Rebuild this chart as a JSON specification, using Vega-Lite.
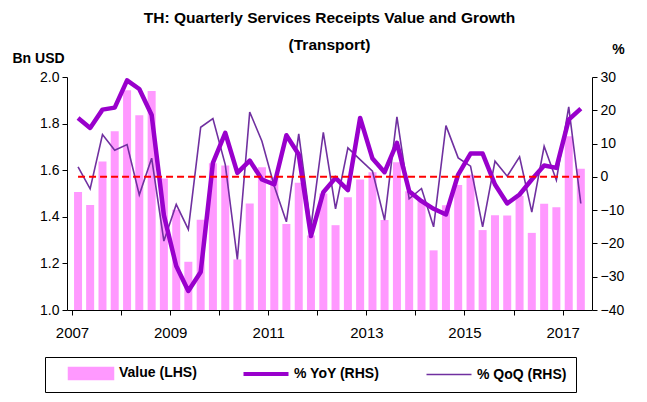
{
  "$schema": "https://vega.github.io/schema/vega-lite/v6.json",
  "width": 525,
  "height": 233,
  "autosize": {"type": "none"},
  "padding": {"left": 67, "top": 77, "right": 55, "bottom": 92},
  "background": "white",
  "config": {
    "font": "Liberation Sans",
    "view": {"stroke": null},
    "axis": {
      "labelFont": "Liberation Sans",
      "labelFontSize": 14,
      "labelColor": "black",
      "domainColor": "black",
      "domainWidth": 1,
      "tickColor": "black",
      "tickSize": 5,
      "grid": false,
      "titleFont": "Liberation Sans",
      "titleFontSize": 14,
      "titleFontWeight": "bold",
      "titleColor": "black"
    }
  },
  "title": {
    "text": ["TH: Quarterly Services Receipts Value and Growth", "(Transport)"],
    "font": "Liberation Sans",
    "fontSize": 15.5,
    "fontWeight": "bold",
    "color": "black",
    "anchor": "middle",
    "frame": "group",
    "lineHeight": 27,
    "offset": -11
  },
  "data": {
    "format": {"parse": {"date": "date:'%Y-%m-%d'"}},
    "values": [
      {"date": "2007-02-15", "value": 1.506, "yoy": 17.7, "qoq": 3.0},
      {"date": "2007-05-16", "value": 1.451, "yoy": 14.7, "qoq": -3.6},
      {"date": "2007-08-16", "value": 1.637, "yoy": 20.2, "qoq": 12.7},
      {"date": "2007-11-15", "value": 1.767, "yoy": 20.8, "qoq": 8.0},
      {"date": "2008-02-15", "value": 1.943, "yoy": 29.0, "qoq": 9.7},
      {"date": "2008-05-16", "value": 1.836, "yoy": 26.4, "qoq": -5.4},
      {"date": "2008-08-16", "value": 1.940, "yoy": 18.6, "qoq": 5.6},
      {"date": "2008-11-15", "value": 1.564, "yoy": -11.5, "qoq": -19.3},
      {"date": "2009-02-15", "value": 1.430, "yoy": -26.8, "qoq": -8.3},
      {"date": "2009-05-16", "value": 1.207, "yoy": -34.3, "qoq": -15.8},
      {"date": "2009-08-16", "value": 1.387, "yoy": -28.6, "qoq": 14.9},
      {"date": "2009-11-15", "value": 1.630, "yoy": 4.2, "qoq": 17.5},
      {"date": "2010-02-15", "value": 1.620, "yoy": 13.2, "qoq": 3.7},
      {"date": "2010-05-16", "value": 1.217, "yoy": 1.2, "qoq": -24.8},
      {"date": "2010-08-16", "value": 1.457, "yoy": 4.9, "qoq": 19.5},
      {"date": "2010-11-15", "value": 1.613, "yoy": -0.8, "qoq": 10.7},
      {"date": "2011-02-15", "value": 1.570, "yoy": -2.3, "qoq": -2.8},
      {"date": "2011-05-16", "value": 1.369, "yoy": 12.5, "qoq": -13.5},
      {"date": "2011-08-16", "value": 1.546, "yoy": 6.7, "qoq": 12.9},
      {"date": "2011-11-15", "value": 1.320, "yoy": -17.8, "qoq": -15.0},
      {"date": "2012-02-15", "value": 1.500, "yoy": -4.6, "qoq": 13.4},
      {"date": "2012-05-16", "value": 1.364, "yoy": -0.3, "qoq": -9.6},
      {"date": "2012-08-16", "value": 1.484, "yoy": -4.0, "qoq": 8.7},
      {"date": "2012-11-15", "value": 1.560, "yoy": 17.7, "qoq": 5.2},
      {"date": "2013-02-15", "value": 1.591, "yoy": 5.5, "qoq": 1.7},
      {"date": "2013-05-16", "value": 1.386, "yoy": 1.4, "qoq": -13.0},
      {"date": "2013-08-16", "value": 1.634, "yoy": 10.2, "qoq": 18.0},
      {"date": "2013-11-15", "value": 1.510, "yoy": -4.3, "qoq": -6.6},
      {"date": "2014-02-15", "value": 1.474, "yoy": -7.3, "qoq": -3.5},
      {"date": "2014-05-16", "value": 1.256, "yoy": -9.6, "qoq": -15.0},
      {"date": "2014-08-16", "value": 1.450, "yoy": -11.3, "qoq": 15.4},
      {"date": "2014-11-15", "value": 1.536, "yoy": 0.7, "qoq": 5.7},
      {"date": "2015-02-15", "value": 1.580, "yoy": 7.0, "qoq": 3.2},
      {"date": "2015-05-16", "value": 1.343, "yoy": 7.0, "qoq": -15.0},
      {"date": "2015-08-16", "value": 1.407, "yoy": -2.3, "qoq": 4.7},
      {"date": "2015-11-15", "value": 1.406, "yoy": -8.0, "qoq": 0.2},
      {"date": "2016-02-15", "value": 1.490, "yoy": -5.3, "qoq": 6.0},
      {"date": "2016-05-16", "value": 1.331, "yoy": -0.8, "qoq": -10.6},
      {"date": "2016-08-16", "value": 1.456, "yoy": 3.4, "qoq": 9.2},
      {"date": "2016-11-15", "value": 1.441, "yoy": 2.7, "qoq": -1.0},
      {"date": "2017-02-15", "value": 1.746, "yoy": 17.2, "qoq": 21.0},
      {"date": "2017-05-16", "value": 1.606, "yoy": 20.5, "qoq": -8.0}
    ]
  },
  "encoding": {
    "x": {
      "field": "date",
      "type": "temporal",
      "scale": {"domain": [{"year": 2007, "month": 1, "date": 1}, {"year": 2017, "month": 7, "date": 1}]},
      "axis": {
        "title": null,
        "values": [
          {"year": 2007, "month": 1, "date": 1}, {"year": 2008, "month": 1, "date": 1},
          {"year": 2009, "month": 1, "date": 1}, {"year": 2010, "month": 1, "date": 1},
          {"year": 2011, "month": 1, "date": 1}, {"year": 2012, "month": 1, "date": 1},
          {"year": 2013, "month": 1, "date": 1}, {"year": 2014, "month": 1, "date": 1},
          {"year": 2015, "month": 1, "date": 1}, {"year": 2016, "month": 1, "date": 1},
          {"year": 2017, "month": 1, "date": 1}
        ],
        "format": "%Y",
        "labelExpr": "year(datum.value) % 2 == 1 ? '' + year(datum.value) : ''",
        "labelOverlap": false,
        "labelFlush": false,
        "labelFontSize": 15,
        "labelPadding": 10,
        "tickSize": 5
      }
    }
  },
  "layer": [
    {
      "mark": {"type": "bar", "size": 8},
      "encoding": {
        "y": {
          "field": "value",
          "type": "quantitative",
          "scale": {"domain": [1, 2]},
          "axis": {
            "title": "Bn USD",
            "values": [1, 1.2, 1.4, 1.6, 1.8, 2],
            "format": ".1f",
            "labelPadding": 3,
            "titleAngle": 0,
            "titleAlign": "left",
            "titleBaseline": "alphabetic",
            "titleX": -55,
            "titleY": -15
          }
        },
        "y2": {"datum": 1},
        "color": {
          "datum": "Value (LHS)",
          "scale": {
            "domain": ["Value (LHS)", "% YoY (RHS)", "% QoQ (RHS)"],
            "range": ["#FF99FF", "#9900CC", "#7030A0"]
          },
          "legend": {
            "orient": "none",
            "direction": "horizontal",
            "columns": 3,
            "legendX": -22,
            "legendY": 280,
            "title": null,
            "labelFont": "Liberation Sans",
            "labelFontSize": 14,
            "labelFontWeight": "bold",
            "labelColor": "black",
            "symbolSize": 2025,
            "symbolOffset": 30,
            "strokeColor": "black",
            "padding": 9,
            "columnPadding": 32,
            "labelOffset": 21,
            "encode": {
              "symbols": {
                "update": {
                  "size": {"value": 2025},
                  "shape": {"signal": "datum.value == 'Value (LHS)' ? 'M-1,-0.27H1V0.27H-1Z' : 'stroke'"},
                  "fill": {"signal": "datum.value == 'Value (LHS)' ? '#FF99FF' : 'transparent'"},
                  "stroke": {"signal": "datum.value == 'Value (LHS)' ? 'transparent' : (datum.value == '% YoY (RHS)' ? '#9900CC' : '#7030A0')"},
                  "strokeWidth": {"signal": "datum.value == '% YoY (RHS)' ? 4 : 1.5"},
                  "opacity": {"value": 1},
                  "fillOpacity": {"value": 1}
                }
              }
            }
          }
        }
      }
    },
    {
      "mark": {"type": "line", "strokeWidth": 1.6},
      "encoding": {
        "y": {"field": "qoq", "type": "quantitative", "scale": {"domain": [-40, 30]}, "axis": null},
        "color": {"datum": "% QoQ (RHS)"}
      }
    },
    {
      "mark": {"type": "line", "strokeWidth": 4.5, "strokeJoin": "round"},
      "encoding": {
        "y": {
          "field": "yoy",
          "type": "quantitative",
          "scale": {"domain": [-40, 30]},
          "axis": {
            "orient": "right",
            "title": "%",
            "values": [-40, -30, -20, -10, 0, 10, 20, 30],
            "labelPadding": 3,
            "titleAngle": 0,
            "titleAlign": "center",
            "titleBaseline": "alphabetic",
            "titleX": 26,
            "titleY": -24
          }
        },
        "color": {"datum": "% YoY (RHS)"}
      }
    },
    {
      "mark": {"type": "line", "color": "#FF0000", "strokeWidth": 2, "strokeDash": [7, 4]},
      "encoding": {
        "y": {"datum": 0, "type": "quantitative", "scale": {"domain": [-40, 30]}, "axis": null}
      }
    }
  ],
  "resolve": {"scale": {"y": "independent"}}
}
